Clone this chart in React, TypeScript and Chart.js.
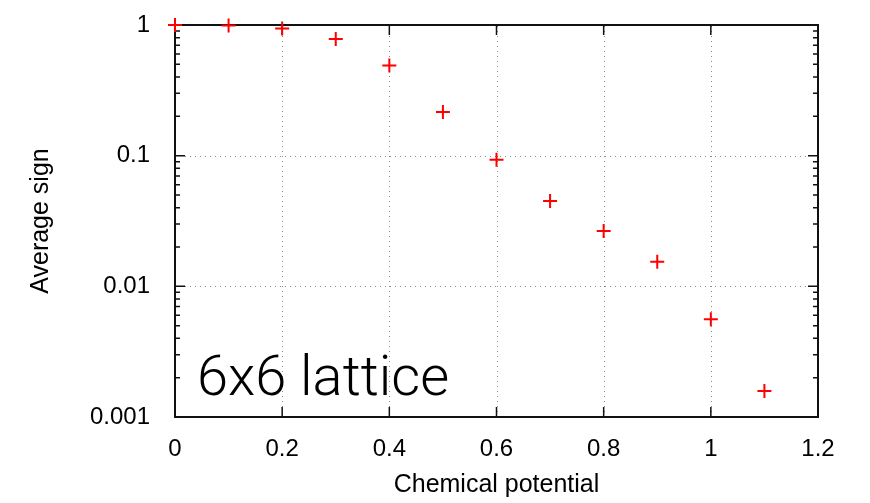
import React, { useEffect, useRef } from "react";
import { Chart, registerables } from "chart.js";

Chart.register(...registerables);

const chemicalPotential = [0, 0.1, 0.2, 0.3, 0.4, 0.5, 0.6, 0.7, 0.8, 0.9, 1.0, 1.1];
const averageSign = [1.0, 0.99, 0.94, 0.78, 0.49, 0.216, 0.093, 0.045, 0.0265, 0.0154, 0.0056, 0.00158];

const xTickValues = [0, 0.2, 0.4, 0.6, 0.8, 1.0, 1.2];
const xTickLabels = ["0", "0.2", "0.4", "0.6", "0.8", "1", "1.2"];
const yTickValues = [0.001, 0.01, 0.1, 1];
const yTickLabels = ["0.001", "0.01", "0.1", "1"];

const xTitle = "Chemical potential";
const yTitle = "Average sign";
const annotationText = "6x6 lattice";

const FONT = "'Liberation Sans', Arial, Helvetica, sans-serif";

const framePlugin = {
  id: "frame",
  beforeDatasetsDraw(chart: any) {
    const { ctx, chartArea } = chart;
    const { left, right, top, bottom } = chartArea;
    const xs = chart.scales.x;
    const ys = chart.scales.y;
    ctx.save();
    // dotted grid
    ctx.strokeStyle = "#8a8a8a";
    ctx.lineWidth = 1;
    ctx.setLineDash([1, 4]);
    xTickValues.forEach((v) => {
      const px = Math.round(xs.getPixelForValue(v)) + 0.5;
      if (px <= left + 2 || px >= right - 2) return;
      ctx.beginPath();
      ctx.moveTo(px, bottom);
      ctx.lineTo(px, top);
      ctx.stroke();
    });
    yTickValues.forEach((v) => {
      const py = Math.round(ys.getPixelForValue(v)) + 0.5;
      if (py <= top + 2 || py >= bottom - 2) return;
      ctx.beginPath();
      ctx.moveTo(left + 10, py);
      ctx.lineTo(right - 10, py);
      ctx.stroke();
    });
    ctx.setLineDash([]);
    // ticks
    ctx.strokeStyle = "#111";
    ctx.lineWidth = 1.5;
    const major = 10;
    const minor = 5;
    xTickValues.forEach((v) => {
      const px = xs.getPixelForValue(v);
      ctx.beginPath();
      ctx.moveTo(px, bottom);
      ctx.lineTo(px, bottom - major);
      ctx.moveTo(px, top);
      ctx.lineTo(px, top + major);
      ctx.stroke();
    });
    yTickValues.forEach((v, i) => {
      const py = ys.getPixelForValue(v);
      ctx.beginPath();
      ctx.moveTo(left, py);
      ctx.lineTo(left + major, py);
      ctx.moveTo(right, py);
      ctx.lineTo(right - major, py);
      ctx.stroke();
      if (i < yTickValues.length - 1) {
        for (let m = 2; m <= 9; m++) {
          const my = ys.getPixelForValue(v * m);
          ctx.beginPath();
          ctx.moveTo(left, my);
          ctx.lineTo(left + minor, my);
          ctx.moveTo(right, my);
          ctx.lineTo(right - minor, my);
          ctx.stroke();
        }
      }
    });
    // frame
    ctx.lineWidth = 2;
    ctx.strokeStyle = "#111";
    ctx.strokeRect(left, top, right - left, bottom - top);
    // annotation text
    ctx.fillStyle = "#000";
    ctx.font = "300 56px Roboto, 'Liberation Sans', sans-serif";
    ctx.textAlign = "left";
    ctx.textBaseline = "alphabetic";
    ctx.fillText(annotationText, left + 22, bottom - 22);
    ctx.restore();
  },
};

export default function App() {
  const canvasRef = useRef<HTMLCanvasElement | null>(null);

  useEffect(() => {
    document.body.style.margin = "0";
    const canvas = canvasRef.current;
    if (!canvas) return;
    const chart = new Chart(canvas, {
      type: "scatter",
      data: {
        datasets: [
          {
            label: "Average sign",
            data: chemicalPotential.map((x, i) => ({ x, y: averageSign[i] })),
            pointStyle: "cross",
            pointRadius: 7,
            pointHoverRadius: 7,
            borderColor: "#ff0000",
            backgroundColor: "#ff0000",
            borderWidth: 2,
            pointBorderWidth: 2,
            clip: false as any,
          },
        ],
      },
      options: {
        responsive: false,
        animation: false,
        events: [],
        layout: { autoPadding: false, padding: { top: 25, right: 52, left: 0, bottom: 0 } },
        plugins: {
          legend: { display: false },
          tooltip: { enabled: false },
        },
        scales: {
          x: {
            type: "linear",
            min: 0,
            max: 1.2,
            grid: { display: false },
            border: { display: false },
            afterFit: (scale: any) => {
              scale.height = 86;
              scale.paddingLeft = 0;
              scale.paddingRight = 0;
            },
            afterBuildTicks: (scale: any) => {
              scale.ticks = xTickValues.map((v) => ({ value: v }));
            },
            ticks: {
              autoSkip: false,
              maxRotation: 0,
              padding: 10,
              color: "#000",
              font: { family: FONT, size: 24 },
              callback: (_v: any, i: number) => xTickLabels[i],
            },
            title: {
              display: true,
              text: xTitle,
              color: "#000",
              font: { family: FONT, size: 25 },
              padding: { top: 0, bottom: 3 },
            },
          },
          y: {
            type: "logarithmic",
            min: 0.001,
            max: 1,
            grid: { display: false },
            border: { display: false },
            afterFit: (scale: any) => {
              scale.width = 175;
              scale.paddingTop = 0;
              scale.paddingBottom = 0;
            },
            afterBuildTicks: (scale: any) => {
              scale.ticks = yTickValues.map((v) => ({ value: v }));
            },
            ticks: {
              autoSkip: false,
              padding: 17,
              color: "#000",
              font: { family: FONT, size: 24 },
              callback: (_v: any, i: number) => yTickLabels[i],
            },
            title: {
              display: true,
              text: yTitle,
              color: "#000",
              font: { family: FONT, size: 25 },
              padding: { top: 26, bottom: 0 },
            },
          },
        },
      },
      plugins: [framePlugin],
    });
    return () => chart.destroy();
  }, []);

  return (
    <div style={{ width: 870, height: 503, background: "#fff" }}>
      <canvas ref={canvasRef} width={870} height={503} />
    </div>
  );
}
